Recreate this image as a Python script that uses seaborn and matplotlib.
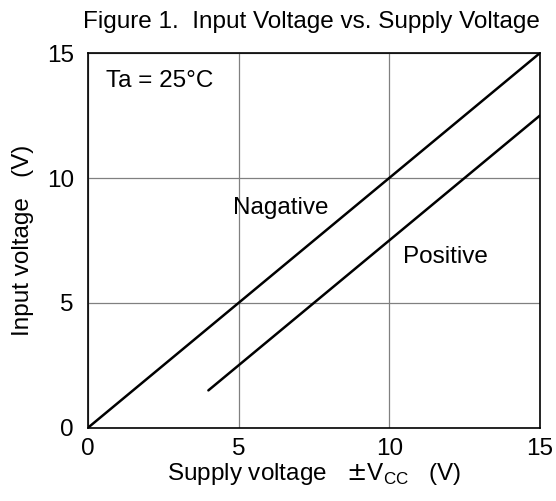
import matplotlib
matplotlib.use("Agg")
import matplotlib.pyplot as plt
import seaborn as sns
import pandas as pd

# dados
supply_neg = [0, 15]
input_neg = [0, 15]
supply_pos = [4, 15]
input_pos = [1.5, 12.5]
ticks = [0, 5, 10, 15]

sns.set_theme(style="white")
plt.rcParams['font.family'] = ['Liberation Sans', 'DejaVu Sans']
plt.rcParams['text.color'] = 'black'
plt.rcParams['axes.labelcolor'] = 'black'

FS = 17.5

df = pd.concat([
    pd.DataFrame({'supply': supply_neg, 'input': input_neg, 'serie': 'Nagative'}),
    pd.DataFrame({'supply': supply_pos, 'input': input_pos, 'serie': 'Positive'}),
])

fig = plt.figure(figsize=(5.56, 5.01), dpi=100)
ax = fig.add_axes([0.158, 0.146, 0.813, 0.748])

sns.lineplot(data=df, x='supply', y='input', units='serie', estimator=None,
             color='black', linewidth=1.8, ax=ax, legend=False)

ax.set_xlim(0, 15)
ax.set_ylim(0, 15)
ax.set_xticks(ticks)
ax.set_yticks(ticks)
ax.grid(True, color='#808080', linewidth=0.9)
for s in ax.spines.values():
    s.set_color('black')
    s.set_linewidth(1.2)
ax.tick_params(axis='x', length=0, labelsize=FS, colors='black', pad=7)
ax.tick_params(axis='y', length=0, labelsize=FS, colors='black', pad=10)

ax.set_xlabel(r'Supply voltage   $\pm$V$_{\mathregular{CC}}$   (V)', fontsize=FS, labelpad=1)
ax.set_ylabel('Input voltage   (V)', fontsize=FS, labelpad=9)
ax.set_title('Figure 1.  Input Voltage vs. Supply Voltage', fontsize=FS,
             loc='right', pad=18)

ax.text(0.6, 13.9, 'Ta = 25°C', fontsize=FS, va='center')
ax.text(6.4, 8.8, 'Nagative', fontsize=FS, ha='center', va='center')
ax.text(11.85, 6.84, 'Positive', fontsize=FS, ha='center', va='center')

fig.savefig('out.png', dpi=100)
